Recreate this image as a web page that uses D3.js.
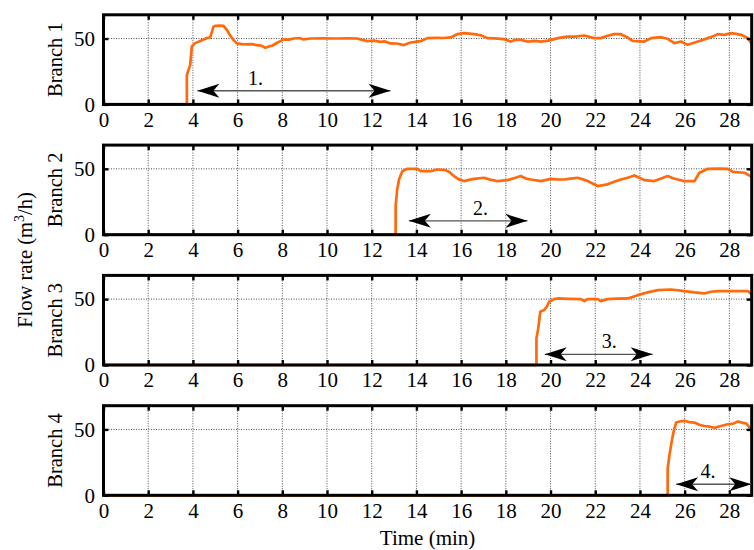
<!DOCTYPE html>
<html>
<head>
<meta charset="utf-8">
<script src="https://cdn.jsdelivr.net/npm/d3@7"></script>
<style>
  html, body { margin: 0; padding: 0; background: #fff; }
  svg { display: block; }
  svg text { font-family: "Liberation Serif", "Times New Roman", Times, serif; }
</style>
</head>
<body>
<svg id="chart" width="754" height="550"></svg>
<script>
// Flow rate per branch over time (min, m^3/h)
const branch1Time = [0, 3.73, 3.73, 3.80, 3.88, 3.95, 4.10, 4.33, 4.50, 4.62, 4.77, 4.85, 4.92, 5.0, 5.2, 5.37, 5.52, 5.68, 5.82, 5.97, 6.2, 6.42, 6.65, 6.87, 7.05, 7.24, 7.4, 7.54, 7.75, 7.91, 8.06, 8.3, 8.51, 8.75, 8.96, 9.26, 9.8, 10.4, 10.9, 11.35, 11.8, 12.1, 12.39, 12.6, 12.84, 13.1, 13.44, 13.74, 13.95, 14.19, 14.49, 14.9, 15.2, 15.53, 15.83, 16.13, 16.58, 16.9, 17.17, 17.5, 17.92, 18.22, 18.4, 18.67, 18.97, 19.3, 19.57, 19.9, 20.16, 20.45, 20.76, 21.1, 21.51, 21.95, 22.25, 22.55, 22.85, 23.15, 23.4, 23.67, 24.2, 24.5, 24.94, 25.24, 25.54, 25.84, 26.14, 26.35, 26.59, 26.8, 27.04, 27.25, 27.48, 27.78, 28.08, 28.3, 28.53, 28.83, 29];
const branch1Flow = [0, 0, 22.3, 26, 30, 44, 46.5, 48.2, 49.5, 50.3, 50.8, 55, 59, 59.6, 59.8, 59.6, 56.5, 52, 48.8, 46.3, 45.8, 45.5, 45.7, 45, 44.6, 43, 44, 44.5, 46.6, 48, 49.3, 49.2, 50, 50.4, 49.3, 50, 50.1, 50, 50.2, 50, 48, 48.4, 47.5, 47.8, 46.3, 46.2, 45, 47, 47.4, 48, 50.3, 50.5, 50.4, 50.8, 53.3, 54.1, 53.3, 52.4, 50.3, 50.1, 49.5, 47.7, 48.9, 49.0, 47.7, 48.2, 47.7, 48.4, 49.5, 50.7, 51.5, 51.4, 52.3, 50.3, 50.3, 52.1, 53.3, 53.3, 51.2, 48.2, 47.7, 50.3, 51.0, 49.8, 46.5, 47.7, 45.2, 46.4, 47.7, 48.8, 50.3, 51.6, 53.3, 52.8, 54.1, 53.5, 52.8, 50.3, 45.7];

const branch2Time = [0, 13.07, 13.07, 13.14, 13.22, 13.37, 13.59, 14.04, 14.19, 14.64, 14.93, 15.31, 15.5, 15.68, 15.9, 16.13, 16.35, 16.58, 17.02, 17.3, 17.62, 18.07, 18.4, 18.67, 18.9, 19.12, 19.57, 20.01, 20.3, 20.61, 20.9, 21.21, 21.45, 21.66, 21.9, 22.11, 22.55, 22.85, 23.15, 23.45, 23.75, 24.0, 24.2, 24.64, 24.95, 25.24, 25.45, 25.69, 25.99, 26.44, 26.66, 27.04, 27.5, 27.93, 28.16, 28.68, 29];
const branch2Flow = [0, 0, 21.8, 34.4, 41.9, 48.2, 50, 50, 48.2, 48.2, 49.5, 49.0, 47.2, 44.5, 42.0, 40.7, 41.6, 42.4, 43.2, 41.8, 40.7, 41.4, 43.0, 44.5, 42.6, 41.9, 40.7, 42.4, 42.0, 41.9, 42.5, 43.2, 42.0, 40.7, 38.7, 36.9, 38.2, 40.2, 41.9, 43.2, 45.0, 43.0, 41.4, 40.7, 42.6, 44.5, 43.0, 41.9, 40.7, 40.7, 47.0, 50, 50.2, 50, 47.7, 47.0, 43.9];

const branch3Time = [0, 19.37, 19.37, 19.45, 19.54, 19.71, 19.83, 19.94, 20.16, 20.31, 20.8, 21.36, 21.51, 21.66, 22.11, 22.25, 22.55, 23.0, 23.45, 23.9, 24.35, 24.8, 25.39, 25.99, 26.44, 26.88, 27.18, 27.48, 28.2, 28.83, 29];
const branch3Flow = [0, 0, 20.2, 27.8, 40.4, 41.7, 44.2, 48, 50, 50.5, 50.2, 50, 48.5, 50, 50, 48.5, 50, 50.3, 50.5, 53.0, 55.1, 56.8, 57.3, 56.1, 55.1, 54.3, 55.6, 56.1, 56.0, 56.1, 53.5];

const branch4Time = [0, 25.24, 25.24, 25.32, 25.42, 25.51, 25.62, 25.77, 25.99, 26.2, 26.44, 26.65, 26.88, 27.1, 27.33, 27.63, 27.93, 28.15, 28.38, 28.55, 28.75, 28.98, 29];
const branch4Flow = [0, 0, 20.1, 30.5, 40.9, 48.7, 55.2, 56.0, 56.5, 55.6, 55.2, 53.5, 52.6, 52.1, 51.3, 52.6, 53.9, 54.2, 56.0, 55.2, 54.5, 50, 44.9];

const branchNames = ["Branch 1", "Branch 2", "Branch 3", "Branch 4"];

// Marked intervals: start time, end time, height (m^3/h), label
const intervalStart = [4.2, 13.66, 19.74, 25.62];
const intervalEnd = [12.84, 18.97, 24.57, 28.98];
const intervalLevel = [10.4, 10.5, 8.1, 8.4];
const intervalLabel = ["1.", "2.", "3.", "4."];
const intervalLabelAt = [6.8, 16.87, 22.63, 27.04];

const xTicks = [0, 2, 4, 6, 8, 10, 12, 14, 16, 18, 20, 22, 24, 26, 28];
const yTicks = [0, 50];
const xDomain = [0, 29];
const yDomain = [0, 68];

const series = [
  { t: branch1Time, v: branch1Flow },
  { t: branch2Time, v: branch2Flow },
  { t: branch3Time, v: branch3Flow },
  { t: branch4Time, v: branch4Flow }
];

// Layout
const left = 103.5, plotW = 648.2;
const top0 = 14.8, step = 130.3, plotH = 89.6;
const fontTick = 21;

const svg = d3.select("#chart");

// Arrowhead marker (stealth shape), reused at both ends
svg.append("defs").append("marker")
  .attr("id", "head")
  .attr("markerUnits", "userSpaceOnUse")
  .attr("viewBox", "-23 -8 24 16")
  .attr("markerWidth", 24)
  .attr("markerHeight", 16)
  .attr("refX", 0).attr("refY", 0)
  .attr("orient", "auto-start-reverse")
  .append("path")
  .attr("d", "M0,0 L-22,-7 L-16,0 L-22,7 Z")
  .attr("fill", "#000");

const x = d3.scaleLinear().domain(xDomain).range([0, plotW]);
const y = d3.scaleLinear().domain(yDomain).range([plotH, 0]);

const line = d3.line()
  .x(d => x(d[0]))
  .y(d => y(d[1]));

series.forEach((s, i) => {
  const g = svg.append("g").attr("transform", `translate(${left},${top0 + i * step})`);

  // dotted grid
  g.append("g")
    .selectAll("line")
    .data(xTicks.filter(t => t > 0))
    .join("line")
    .attr("x1", d => x(d)).attr("x2", d => x(d))
    .attr("y1", 0).attr("y2", plotH)
    .attr("stroke", "#222").attr("stroke-width", 0.8)
    .attr("stroke-dasharray", "1,1.5");
  g.append("g")
    .selectAll("line")
    .data(yTicks.filter(t => t > 0))
    .join("line")
    .attr("x1", 0).attr("x2", plotW)
    .attr("y1", d => y(d)).attr("y2", d => y(d))
    .attr("stroke", "#222").attr("stroke-width", 0.8)
    .attr("stroke-dasharray", "1,1.5");

  // flow rate trace
  const pts = s.t.map((t, k) => [t, s.v[k]]);
  g.append("path")
    .datum(pts)
    .attr("d", line)
    .attr("fill", "none")
    .attr("stroke", "#ff6a0d")
    .attr("stroke-width", 2.7)
    .attr("stroke-linejoin", "round");

  // axes with inward ticks
  const bottomAxis = g.append("g")
    .attr("transform", `translate(0,${plotH})`)
    .call(d3.axisBottom(x).tickValues(xTicks).tickSize(-5).tickPadding(7.5).tickFormat(d3.format("d")));
  const topAxis = g.append("g")
    .call(d3.axisTop(x).tickValues(xTicks).tickSize(-5).tickFormat(""));
  const leftAxis = g.append("g")
    .call(d3.axisLeft(y).tickValues(yTicks).tickSize(-5).tickPadding(8.5).tickFormat(d3.format("d")));
  const rightAxis = g.append("g")
    .attr("transform", `translate(${plotW},0)`)
    .call(d3.axisRight(y).tickValues(yTicks).tickSize(-5).tickFormat(""));

  [bottomAxis, topAxis, leftAxis, rightAxis].forEach(a => {
    a.attr("font-size", fontTick);
    a.select(".domain").remove();
    a.selectAll(".tick line").attr("stroke", "#000").attr("stroke-width", 2.4);
    a.selectAll(".tick text").attr("fill", "#000");
  });

  // frame
  g.append("rect")
    .attr("x", 0).attr("y", 0)
    .attr("width", plotW).attr("height", plotH)
    .attr("fill", "none")
    .attr("stroke", "#000")
    .attr("stroke-width", 3);

  // interval arrow
  g.append("line")
    .attr("x1", x(intervalStart[i])).attr("x2", x(intervalEnd[i]))
    .attr("y1", y(intervalLevel[i])).attr("y2", y(intervalLevel[i]))
    .attr("stroke", "#555")
    .attr("stroke-width", 1.4)
    .attr("marker-start", "url(#head)")
    .attr("marker-end", "url(#head)");
  g.append("text")
    .attr("x", x(intervalLabelAt[i]))
    .attr("y", y(intervalLevel[i]) - 6)
    .attr("text-anchor", "middle")
    .attr("font-size", 20)
    .text(intervalLabel[i]);

  // branch label
  g.append("text")
    .attr("transform", `translate(-41.5,${plotH / 2}) rotate(-90)`)
    .attr("text-anchor", "middle")
    .attr("font-size", 20.5)
    .text(branchNames[i]);
});

// shared axis titles
svg.append("text")
  .attr("x", left + plotW / 2)
  .attr("y", 545)
  .attr("text-anchor", "middle")
  .attr("font-size", 21)
  .text("Time (min)");

const yTitle = svg.append("text")
  .attr("transform", `translate(32,260) rotate(-90)`)
  .attr("text-anchor", "middle")
  .attr("font-size", 20.5);
yTitle.append("tspan").text("Flow rate (m");
yTitle.append("tspan").attr("dy", -8).attr("font-size", 14).text("3");
yTitle.append("tspan").attr("dy", 8).text("/h)");
</script>
</body>
</html>
